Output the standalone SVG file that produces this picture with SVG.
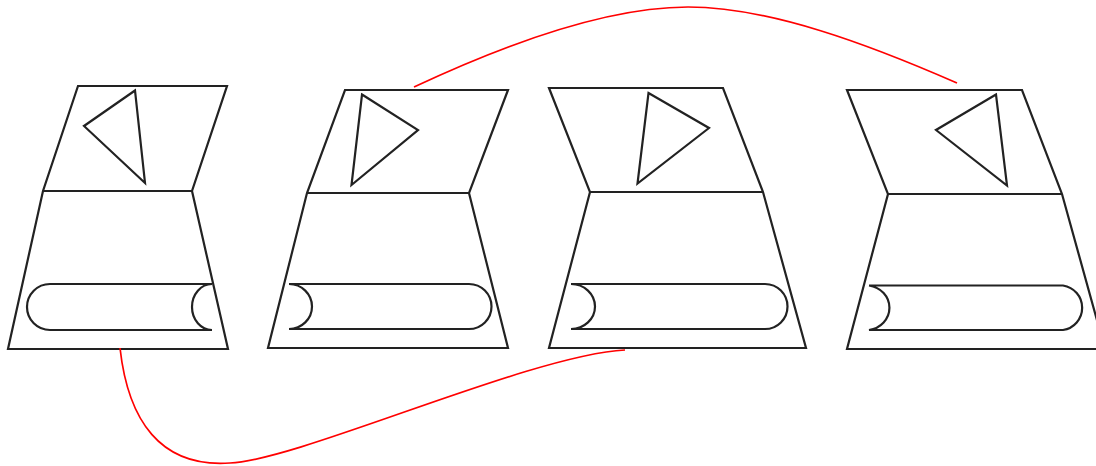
<svg xmlns="http://www.w3.org/2000/svg" width="1096" height="466" viewBox="0 0 1096 466">
<style>
.n{fill:none;stroke:#222;stroke-width:2.2;stroke-linejoin:miter}
.c{fill:none;stroke:#ff0000;stroke-width:1.7}
</style>
<rect width="1096" height="466" fill="#fff"/>
<g id="node1">
<path class="n" d="M78,86 L227,86 L192,191 L228,349 L8,349 L43,191 Z M43,191 L192,191"/>
<polygon class="n" points="135,90.5 84,126 145,183"/>
<path class="n" d="M212,284 L50,284 A23,23 0 0 0 50,330 L212,330 A20,23 0 0 1 212,284"/>
</g>
<g id="node2">
<path class="n" d="M345,90 L508,90 L469,193 L508,348 L268,348 L307,193 Z M307,193 L469,193"/>
<polygon class="n" points="362,94.5 418,130 351.5,185"/>
<path class="n" d="M289,284 L469,284 A22.5,22.5 0 0 1 469,329 L289,329 A23,22.5 0 0 0 289,284"/>
</g>
<g id="node3">
<path class="n" d="M549,88 L723,88 L763,192 L806,348 L549,348 L590,192 Z M590,192 L763,192"/>
<polygon class="n" points="648.5,93 709,128 637.5,183.5"/>
<path class="n" d="M571,284 L765,284 A22.5,22.5 0 0 1 765,329 L571,329 A24,22.5 0 0 0 571,284"/>
</g>
<g id="node4">
<path class="n" d="M847,90 L1022,90 L1062,194 L1105,349 L847,349 L888,194 Z M888,194 L1062,194"/>
<polygon class="n" points="996,94.5 936,130 1007,185.5"/>
<path class="n" d="M869,285.5 L1063,285.5 A22.5,22.5 0 0 1 1063,330 L869,330 A24,22.5 0 0 0 869,285.5"/>
</g>
<g id="connectors">
<path class="c" d="M414,87 C510,42 610,7 688,7 C770,7 870,45 957,83"/>
<path class="c" d="M120,348 C128,420 160,468 230,463 C300,460 530,355 625,350"/>
</g>
</svg>
